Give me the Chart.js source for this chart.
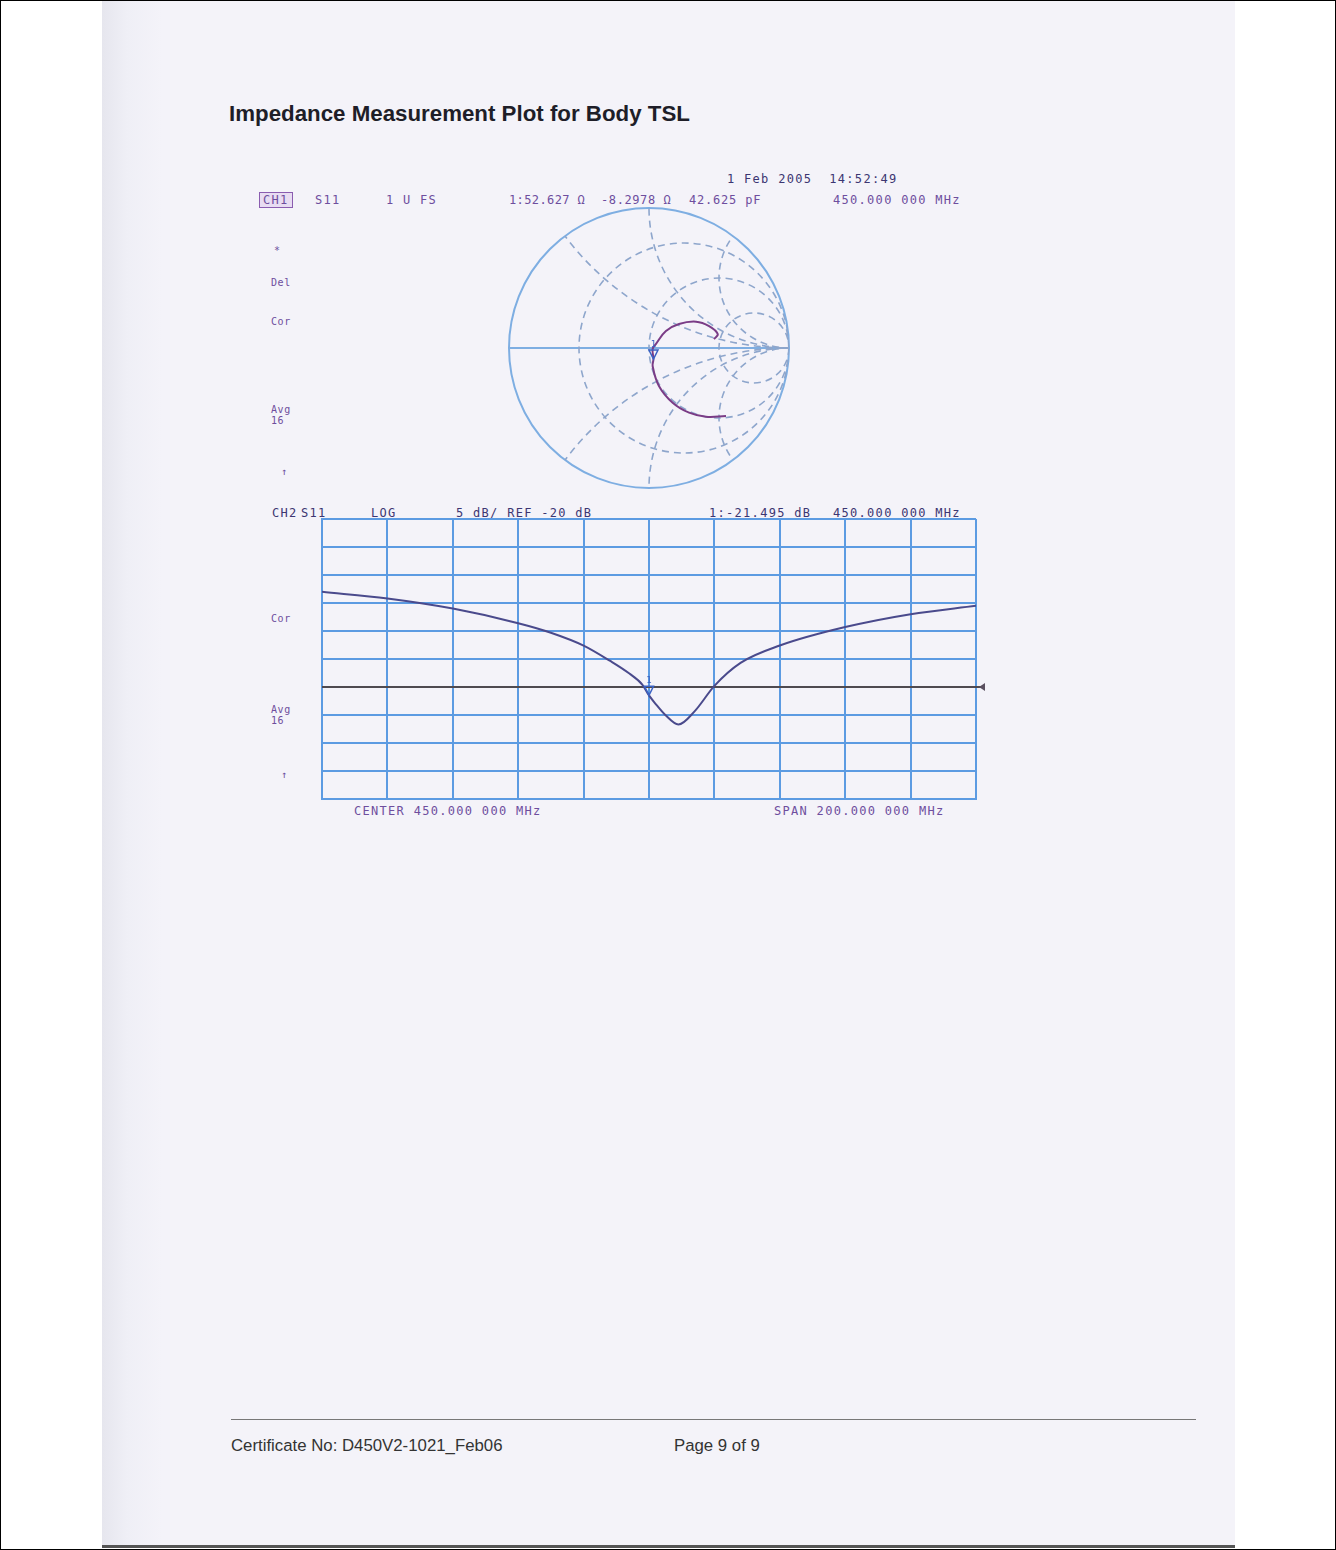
<!DOCTYPE html>
<html>
<head>
<meta charset="utf-8">
<script src="https://cdn.jsdelivr.net/npm/chart.js@4.4.1/dist/chart.umd.min.js"></script>
<style>
  body { margin: 0; background: #fff; }
  #sheet { position: relative; width: 1334px; height: 1548px; border: 1px solid #000; overflow: hidden; background: #fff; }
  #paper { position: absolute; left: 101px; top: 0; width: 1133px; height: 1544px;
    background: linear-gradient(to right, #e6e6ee 0px, #efeff6 25px, #f4f3f9 60px, #f4f3f9 100%);
    border-bottom: 3px solid #555; }
  .t { position: absolute; font-family: "DejaVu Sans Mono", monospace; font-size: 12px; line-height: 14px;
    letter-spacing: 1.3px; color: #6e4e9e; white-space: pre; }
  .s { font-size: 10px; letter-spacing: 0.6px; line-height: 11px; }
  .navy { color: #3c3672; }
  #title { position: absolute; left: 228px; top: 100px; font-family: "Liberation Sans", Arial, sans-serif;
    font-weight: bold; font-size: 22.3px; color: #1e1e28; white-space: pre; }
  .foot { position: absolute; top: 1435px; font-family: "Liberation Sans", Arial, sans-serif; font-size: 16.8px; color: #333; }
  #rule { position: absolute; left: 230px; top: 1418px; width: 965px; height: 0; border-top: 1px solid #777; }
  canvas { position: absolute; }
  #ch1box { border: 1px solid #8a5cb0; background: #e8dcf2; padding: 0 3px; }
</style>
</head>
<body>
<div id="sheet">
  <div id="paper"></div>
  <div id="title">Impedance Measurement Plot for Body TSL</div>

  <div class="t navy" style="left:726px; top:171px">1 Feb 2005  14:52:49</div>
  <div class="t" style="left:258px; top:192px"><span id="ch1box">CH1</span></div>
  <div class="t" style="left:314px; top:192px">S11</div>
  <div class="t" style="left:385px; top:192px">1 U FS</div>
  <div class="t" style="left:508px; top:192px; letter-spacing:0.4px">1:52.627 Ω</div>
  <div class="t" style="left:600px; top:192px; letter-spacing:0.6px">-8.2978 Ω</div>
  <div class="t" style="left:688px; top:192px; letter-spacing:0.8px">42.625 pF</div>
  <div class="t" style="left:832px; top:192px">450.000 000 MHz</div>

  <div class="t s" style="left:273px; top:244px">*</div>
  <div class="t s" style="left:270px; top:276px">Del</div>
  <div class="t s" style="left:270px; top:315px">Cor</div>
  <div class="t s" style="left:270px; top:403px">Avg<br>16</div>
  <div class="t s" style="left:280px; top:465px">↑</div>

  <div class="t navy" style="left:271px; top:505px">CH2</div>
  <div class="t navy" style="left:300px; top:505px">S11</div>
  <div class="t navy" style="left:370px; top:505px">LOG</div>
  <div class="t navy" style="left:455px; top:505px">5 dB/ REF -20 dB</div>
  <div class="t navy" style="left:708px; top:505px">1:-21.495 dB</div>
  <div class="t navy" style="left:832px; top:505px">450.000 000 MHz</div>

  <div class="t s" style="left:270px; top:612px">Cor</div>
  <div class="t s" style="left:270px; top:703px">Avg<br>16</div>
  <div class="t s" style="left:280px; top:768px">↑</div>

  <div class="t" style="left:353px; top:803px">CENTER 450.000 000 MHz</div>
  <div class="t" style="left:773px; top:803px">SPAN 200.000 000 MHz</div>

  <canvas id="smith" width="300" height="300" style="left:498px; top:197px"></canvas>
  <canvas id="logmag" width="674" height="300" style="left:311px; top:508px"></canvas>

  <div id="rule"></div>
  <div class="foot" style="left:230px">Certificate No: D450V2-1021_Feb06</div>
  <div class="foot" style="left:673px">Page 9 of 9</div>
</div>

<script>
// CH2: S11 log magnitude, center 450 MHz, span 200 MHz
const freqMHz = [350, 370, 390, 410, 420, 430, 438, 444, 448, 450, 452, 455, 459, 464, 470, 478, 490, 510, 530, 550];
const s11Db = [-3.0, -4.2, -6.0, -8.6, -10.3, -12.6, -15.3, -17.6, -19.6, -21.5, -23.0, -25.0, -26.7, -24.3, -19.8, -15.7, -12.6, -9.3, -7.0, -5.5];
const refDb = -20;
const markerFreq = 450;
const markerDb = -21.495;

// CH1: S11 on the Smith chart (reflection coefficient, real / imaginary)
const smithRe = [0.55, 0.407, 0.286, 0.169, 0.071, 0.026, 0.032, 0.026, 0.05, 0.121, 0.214, 0.336, 0.429, 0.491, 0.464];
const smithIm = [-0.486, -0.491, -0.462, -0.391, -0.271, -0.129, -0.079, -0.007, 0.029, 0.121, 0.171, 0.188, 0.157, 0.1, 0.064];
const smithMarker = 6;
const rCircles = [1 / 3, 1, 3];
const xArcs = [0.5, 1, 2];

const traceBlue = '#4a4a8c';
const tracePurple = '#7a3c86';
const gridBlue = '#5c9be2';
const markBlue = '#3a62c4';

function drawMarker(ctx, px, py) {
  ctx.save();
  ctx.strokeStyle = markBlue;
  ctx.lineWidth = 1.5;
  ctx.beginPath();
  ctx.moveTo(px, py);
  ctx.lineTo(px - 4.5, py - 9);
  ctx.lineTo(px + 4.5, py - 9);
  ctx.closePath();
  ctx.stroke();
  ctx.fillStyle = markBlue;
  ctx.font = '9px "DejaVu Sans Mono"';
  ctx.textAlign = 'center';
  ctx.textBaseline = 'bottom';
  ctx.fillText('1', px, py - 10);
  ctx.restore();
}

const smithGrid = {
  id: 'smithGrid',
  beforeDatasetsDraw(chart) {
    const { ctx, scales: { x, y } } = chart;
    const cx = x.getPixelForValue(0), cy = y.getPixelForValue(0);
    const unit = x.getPixelForValue(1) - cx;
    ctx.save();
    ctx.strokeStyle = '#7eaee2';
    ctx.lineWidth = 2;
    ctx.beginPath();
    ctx.arc(cx, cy, unit, 0, Math.PI * 2);
    ctx.stroke();
    ctx.beginPath();
    ctx.moveTo(cx - unit, cy);
    ctx.lineTo(cx + unit, cy);
    ctx.stroke();

    ctx.beginPath();
    ctx.arc(cx, cy, unit, 0, Math.PI * 2);
    ctx.clip();
    ctx.strokeStyle = '#8ea6cc';
    ctx.lineWidth = 1.6;
    ctx.setLineDash([7, 5]);
    rCircles.forEach(r => {
      ctx.beginPath();
      ctx.arc(x.getPixelForValue(r / (1 + r)), cy, unit / (1 + r), 0, Math.PI * 2);
      ctx.stroke();
    });
    xArcs.forEach(v => {
      [1, -1].forEach(sign => {
        ctx.beginPath();
        ctx.arc(x.getPixelForValue(1), y.getPixelForValue(sign / v), unit / v, 0, Math.PI * 2);
        ctx.stroke();
      });
    });
    ctx.restore();
  },
  afterDatasetsDraw(chart) {
    const { x, y } = chart.scales;
    drawMarker(chart.ctx, x.getPixelForValue(smithRe[smithMarker]), y.getPixelForValue(smithIm[smithMarker]));
  }
};

new Chart(document.getElementById('smith'), {
  type: 'scatter',
  data: {
    datasets: [{
      data: smithRe.map((re, i) => ({ x: re, y: smithIm[i] })),
      showLine: true,
      borderColor: tracePurple,
      borderWidth: 2,
      pointRadius: 0,
      tension: 0.4
    }]
  },
  options: {
    responsive: false,
    animation: false,
    devicePixelRatio: 1,
    layout: { padding: 10 },
    plugins: { legend: { display: false }, tooltip: { enabled: false } },
    scales: {
      x: { type: 'linear', min: -1, max: 1, display: false },
      y: { type: 'linear', min: -1, max: 1, display: false }
    }
  },
  plugins: [smithGrid]
});

const refLine = {
  id: 'refLine',
  beforeDatasetsDraw(chart) {
    const { ctx, chartArea: a, scales: { y } } = chart;
    const py = y.getPixelForValue(refDb);
    ctx.save();
    ctx.strokeStyle = '#4e4a50';
    ctx.lineWidth = 2;
    ctx.beginPath();
    ctx.moveTo(a.left, py);
    ctx.lineTo(a.right + 5, py);
    ctx.stroke();
    ctx.fillStyle = '#5a5060';
    ctx.beginPath();
    ctx.moveTo(a.right + 3, py);
    ctx.lineTo(a.right + 9, py - 4);
    ctx.lineTo(a.right + 9, py + 4);
    ctx.closePath();
    ctx.fill();
    ctx.restore();
  },
  afterDatasetsDraw(chart) {
    const { x, y } = chart.scales;
    drawMarker(chart.ctx, x.getPixelForValue(markerFreq), y.getPixelForValue(markerDb));
  }
};

new Chart(document.getElementById('logmag'), {
  type: 'line',
  data: {
    datasets: [{
      data: freqMHz.map((f, i) => ({ x: f, y: s11Db[i] })),
      borderColor: traceBlue,
      borderWidth: 2,
      pointRadius: 0,
      cubicInterpolationMode: 'monotone'
    }]
  },
  options: {
    responsive: false,
    animation: false,
    devicePixelRatio: 1,
    layout: { padding: { left: 10, top: 10, right: 10, bottom: 10 } },
    plugins: { legend: { display: false }, tooltip: { enabled: false } },
    scales: {
      x: {
        type: 'linear', min: 350, max: 550,
        ticks: { display: false, stepSize: 20 },
        grid: { color: gridBlue, lineWidth: 2, drawTicks: false },
        border: { color: gridBlue, width: 2 }
      },
      y: {
        type: 'linear', min: -40, max: 10,
        ticks: { display: false, stepSize: 5 },
        grid: { color: gridBlue, lineWidth: 2, drawTicks: false },
        border: { color: gridBlue, width: 2 }
      }
    }
  },
  plugins: [refLine]
});
</script>
</body>
</html>
